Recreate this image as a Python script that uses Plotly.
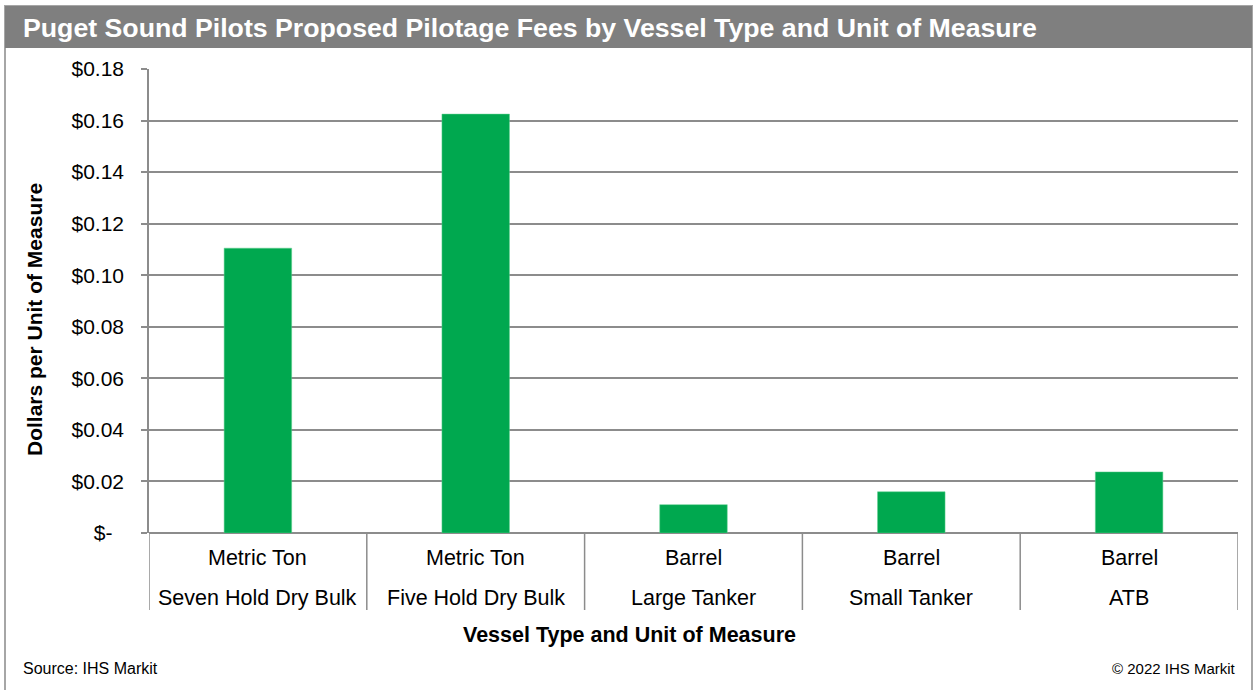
import plotly.graph_objects as go

# ---- data ----
vessel_types = ["Seven Hold Dry Bulk", "Five Hold Dry Bulk", "Large Tanker", "Small Tanker", "ATB"]
units = ["Metric Ton", "Metric Ton", "Barrel", "Barrel", "Barrel"]
fees = [0.1105, 0.1625, 0.0110, 0.0160, 0.0237]
y_tick_vals = [0, 0.02, 0.04, 0.06, 0.08, 0.10, 0.12, 0.14, 0.16, 0.18]
y_tick_text = ["$-\u00a0\u00a0", "$0.02", "$0.04", "$0.06", "$0.08", "$0.10",
               "$0.12", "$0.14", "$0.16", "$0.18"]
title_text = "Puget Sound Pilots Proposed Pilotage Fees by Vessel Type and Unit of Measure"
x_title = "Vessel Type and Unit of Measure"
y_title = "Dollars per Unit of Measure"
source_text = "Source: IHS Markit"
copyright_text = "© 2022 IHS Markit"

W, H = 1259, 690
L, R, T, B = 149, 1238, 69, 533  # plot area in pixels
FONT = "Liberation Sans, Arial, sans-serif"
GRID = "#8c8c8c"


def px_x(x):
    return (x - L) / (R - L)


def px_y(y):
    return (B - y) / (B - T)


fig = go.Figure()
fig.add_trace(go.Bar(
    x=list(range(len(vessel_types))),
    y=fees,
    marker=dict(color="#00A84F", line=dict(color="#5fd08f", width=0.5)),
    width=0.31,
    hoverinfo="y",
))

shapes = []
# outer frame
shapes.append(dict(type="rect", xref="paper", yref="paper",
                   x0=px_x(5), x1=px_x(1252), y0=px_y(692), y1=px_y(6),
                   line=dict(color="#a6a6a6", width=2), fillcolor="rgba(0,0,0,0)", layer="below"))
# title bar
shapes.append(dict(type="rect", xref="paper", yref="paper",
                   x0=px_x(5), x1=px_x(1252), y0=px_y(48), y1=px_y(6),
                   line=dict(width=0), fillcolor="#7f7f7f", layer="below"))
# category dividers
n = len(vessel_types)
for i in range(n + 1):
    shapes.append(dict(type="line", xref="x", yref="paper",
                       x0=i - 0.5, x1=i - 0.5, y0=px_y(610), y1=0,
                       line=dict(color=GRID, width=1.5)))

annotations = []
annotations.append(dict(text="<b>" + title_text + "</b>", xref="paper", yref="paper",
                        x=px_x(21), y=px_y(28), xanchor="left", yanchor="middle",
                        showarrow=False, font=dict(family=FONT, size=26.7, color="white")))
for i, (u, v) in enumerate(zip(units, vessel_types)):
    annotations.append(dict(text=u, xref="x", yref="paper", x=i, y=px_y(558),
                            xanchor="center", yanchor="middle", showarrow=False,
                            font=dict(family=FONT, size=21.5, color="black")))
    annotations.append(dict(text=v, xref="x", yref="paper", x=i, y=px_y(598),
                            xanchor="center", yanchor="middle", showarrow=False,
                            font=dict(family=FONT, size=21.5, color="black")))
annotations.append(dict(text="<b>" + x_title + "</b>", xref="paper", yref="paper",
                        x=px_x(629), y=px_y(635), xanchor="center", yanchor="middle",
                        showarrow=False, font=dict(family=FONT, size=21.5, color="black")))
annotations.append(dict(text="<b>" + y_title + "</b>", xref="paper", yref="paper",
                        x=px_x(34), y=px_y(320), xanchor="center", yanchor="middle",
                        textangle=-90, showarrow=False,
                        font=dict(family=FONT, size=21, color="black")))
annotations.append(dict(text=source_text, xref="paper", yref="paper",
                        x=px_x(21), y=px_y(668), xanchor="left", yanchor="middle",
                        showarrow=False, font=dict(family=FONT, size=16, color="black")))
annotations.append(dict(text=copyright_text, xref="paper", yref="paper",
                        x=px_x(1238), y=px_y(668), xanchor="right", yanchor="middle",
                        showarrow=False, font=dict(family=FONT, size=15, color="black")))

fig.update_layout(
    width=W, height=H,
    margin=dict(l=L, r=W - R, t=T, b=H - B, pad=0),
    paper_bgcolor="white", plot_bgcolor="white",
    showlegend=False,
    shapes=shapes, annotations=annotations,
    font=dict(family=FONT, size=21, color="black"),
    xaxis=dict(range=[-0.5, n - 0.5], showticklabels=False, showgrid=False,
               zeroline=False, showline=False, ticks="", fixedrange=True),
    yaxis=dict(range=[0, 0.18], tickvals=y_tick_vals, ticktext=y_tick_text,
               showgrid=True, gridcolor=GRID, gridwidth=1.5,
               zeroline=True, zerolinecolor=GRID, zerolinewidth=1.5,
               showline=True, linecolor=GRID, linewidth=1.5,
               ticks="outside", ticklen=6, tickcolor=GRID, tickwidth=1.5,
               ticklabelstandoff=13,
               tickfont=dict(family=FONT, size=21, color="black"), fixedrange=True),
)

fig.write_html("out.html", config={"displayModeBar": False},
               post_script="document.body.style.margin='0';document.body.style.overflow='hidden';")
